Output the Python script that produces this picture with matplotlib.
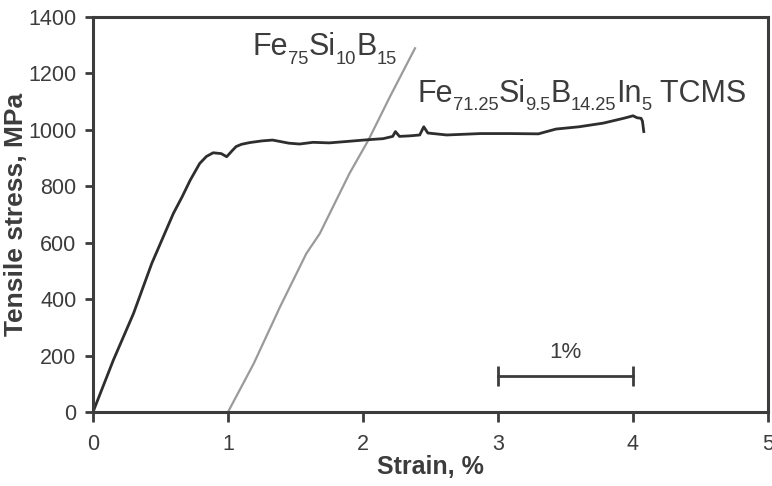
import matplotlib
matplotlib.use('Agg')
import matplotlib.pyplot as plt
from matplotlib.transforms import offset_copy

plt.rcParams['font.family'] = ['Liberation Sans', 'DejaVu Sans']

# Fe71.25Si9.5B14.25In5 TCMS curve (black)
tcms_strain = [0, 0.15, 0.30, 0.435, 0.595, 0.66, 0.72, 0.79, 0.84, 0.89, 0.95, 0.99,
               1.03, 1.06, 1.10, 1.16, 1.25, 1.33, 1.385, 1.45, 1.53, 1.63, 1.75, 1.88,
               2.03, 2.15, 2.22, 2.24, 2.27, 2.35, 2.42, 2.45, 2.48, 2.62, 2.87, 3.09,
               3.30, 3.36, 3.43, 3.60, 3.78, 3.93, 3.97, 4.00, 4.03, 4.06, 4.07, 4.08]
tcms_stress = [0, 183, 349, 526, 703, 762, 821, 880, 905, 918, 915, 904,
               925, 940, 948, 954, 960, 963, 958, 952, 949, 955, 953, 958,
               964, 968, 976, 993, 976, 978, 981, 1010, 988, 981, 986, 986,
               985, 993, 1002, 1010, 1023, 1040, 1045, 1049, 1042, 1040, 1030, 993]

# Fe75Si10B15 curve (gray), shifted by 1 %
fesib_strain = [1.0, 1.19, 1.385, 1.58, 1.68, 1.90, 2.04, 2.20, 2.385]
fesib_stress = [0, 171, 372, 561, 632, 845, 963, 1117, 1288]

x_ticks = [0, 1, 2, 3, 4, 5]
y_ticks = [0, 200, 400, 600, 800, 1000, 1200, 1400]

# 1 % scale bar
bar_x = [3, 4]
bar_y = 128

# chemical formulas as (text, is_subscript) pieces
label_fesib = [('Fe', False), ('75', True), ('Si', False), ('10', True),
               ('B', False), ('15', True)]
label_tcms = [('Fe', False), ('71.25', True), ('Si', False), ('9.5', True),
              ('B', False), ('14.25', True), ('In', False), ('5', True),
              (' TCMS', False)]

dark = '#3c3c3c'

fig = plt.figure(figsize=(7.72, 4.86), dpi=100)
ax = fig.add_axes([0.1205, 0.1523, 0.8743, 0.8134])


def chem_label(x, y, parts, size):
    # write the pieces one after another, subscripts smaller and lower
    renderer = fig.canvas.get_renderer()
    dx = 0.0
    for s, sub in parts:
        fs = size * 0.6 if sub else size
        dy = -size * 0.28 if sub else 0
        tr = offset_copy(ax.transData, fig=fig, x=dx, y=dy, units='points')
        t = ax.text(x, y, s, transform=tr, fontsize=fs, color=dark,
                    ha='left', va='baseline')
        dx += t.get_window_extent(renderer).width * 72.0 / fig.dpi


ax.plot(fesib_strain, fesib_stress, color='#9a9a9a', linewidth=1.6)
ax.plot(tcms_strain, tcms_stress, color='#2e2e2e', linewidth=2.0)

ax.plot(bar_x, [bar_y, bar_y], color=dark, linewidth=2, marker='|',
        markersize=14, markeredgewidth=2)
ax.text(sum(bar_x) / 2, bar_y + 45, '1%', ha='center', va='bottom',
        fontsize=16, color=dark)

chem_label(1.185, 1264, label_fesib, 22)
chem_label(2.40, 1099, label_tcms, 22)

ax.set_xlim(0, 5)
ax.set_ylim(0, 1400)
ax.set_xticks(x_ticks)
ax.set_yticks(y_ticks)

for side in ['left', 'right', 'top', 'bottom']:
    ax.spines[side].set_linewidth(2.2)
    ax.spines[side].set_color(dark)

ax.tick_params(axis='x', direction='out', length=7, width=2, color=dark,
               labelsize=15.5, labelcolor=dark, pad=9)
ax.tick_params(axis='y', direction='out', length=6, width=2, color=dark,
               labelsize=15.5, labelcolor=dark, pad=6)

ax.set_xlabel('Strain, %', fontsize=18, fontweight='bold', color=dark, labelpad=0)
ax.set_ylabel('Tensile stress, MPa', fontsize=19, fontweight='bold', color=dark,
              labelpad=0)

fig.savefig('out.png', dpi=100)
